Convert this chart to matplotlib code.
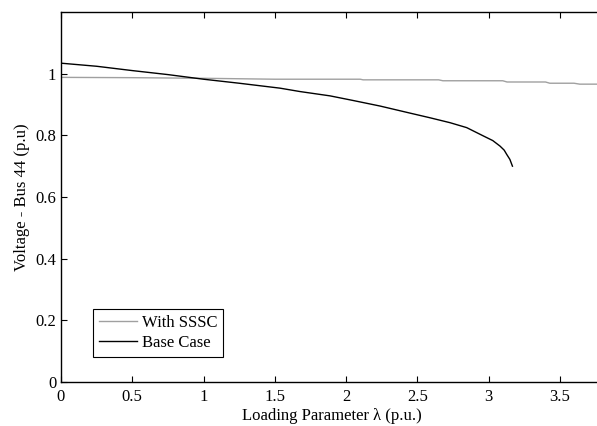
import matplotlib.pyplot as plt

plt.rcParams['font.family'] = ['Liberation Serif', 'DejaVu Serif']
plt.rcParams['font.size'] = 12

# With SSSC (grey curve)
lam_sssc = [0.0, 0.5, 1.0, 1.5, 2.1, 2.12, 2.65, 2.68, 3.1, 3.13, 3.4, 3.43, 3.6, 3.64, 3.8]
v_sssc = [0.988, 0.987, 0.985, 0.982, 0.982, 0.980, 0.980, 0.977, 0.977, 0.973, 0.973, 0.969, 0.969, 0.966, 0.966]

# Base case (black curve)
lam_base = [0.0, 0.25, 0.5, 0.75, 1.0, 1.25, 1.537, 1.677, 1.888, 2.05, 2.239, 2.45,
            2.589, 2.730, 2.847, 2.964, 3.03, 3.081, 3.11, 3.128, 3.15, 3.168]
v_base = [1.034, 1.024, 1.010, 0.997, 0.982, 0.969, 0.953, 0.942, 0.928, 0.913, 0.895, 0.872,
          0.857, 0.841, 0.825, 0.798, 0.783, 0.765, 0.752, 0.738, 0.722, 0.700]

fig = plt.figure(figsize=(5.97, 4.26), dpi=100)
ax = fig.add_axes([61 / 597, 44 / 426, 541.5 / 597, 370 / 426])

ax.plot(lam_sssc, v_sssc, color='#a0a0a0', linewidth=1.0, label='With SSSC')
ax.plot(lam_base, v_base, color='black', linewidth=1.0, label='Base Case')

ax.set_xlim(0, 3.8)
ax.set_ylim(0, 1.2)
ax.set_xticks([0, 0.5, 1, 1.5, 2, 2.5, 3, 3.5])
ax.set_xticklabels(['0', '0.5', '1', '1.5', '2', '2.5', '3', '3.5'])
ax.set_yticks([0, 0.2, 0.4, 0.6, 0.8, 1.0])
ax.set_yticklabels(['0', '0.2', '0.4', '0.6', '0.8', '1'])
ax.tick_params(direction='in', top=True, right=True, length=4, width=0.8)
ax.tick_params(axis='x', pad=5)
ax.tick_params(axis='y', pad=3.5)
for s in ax.spines.values():
    s.set_linewidth(1.0)

ax.set_xlabel('Loading Parameter λ (p.u.)', labelpad=2.5)
ax.set_ylabel('Voltage - Bus 44 (p.u)', labelpad=4)

leg = ax.legend(loc='lower left', bbox_to_anchor=(0.059, 0.068), borderaxespad=0,
                fancybox=False, edgecolor='black', framealpha=1, handlelength=2.3,
                handletextpad=0.3, borderpad=0.35, labelspacing=0.25)
leg.get_frame().set_linewidth(0.8)

fig.savefig('out.png', dpi=100)
